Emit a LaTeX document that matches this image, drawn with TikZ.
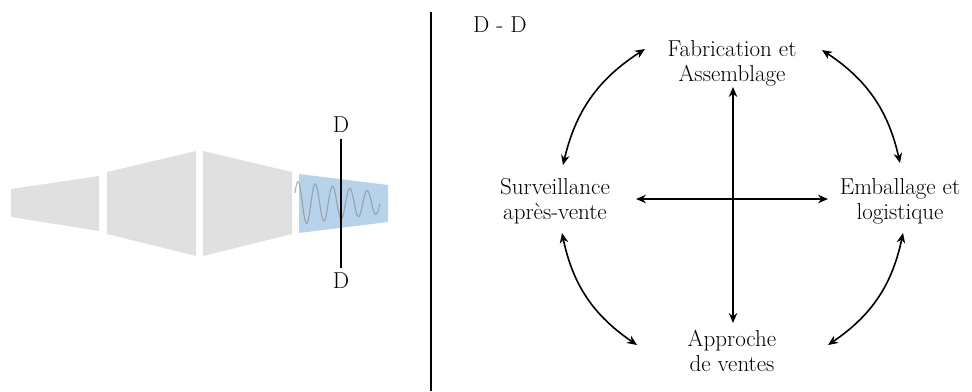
\documentclass[tikz,border=0pt]{standalone}
\usetikzlibrary{arrows.meta}
\definecolor{shapegray}{HTML}{E0E0E0}
\definecolor{shapeblue}{HTML}{B7D3EC}
\tikzset{
  lbl/.style={inner sep=0pt, align=center, font=\fontsize{23}{25}\selectfont},
  arr/.style={line width=1.6pt, {Stealth[length=10pt,width=8.5pt]}-{Stealth[length=10pt,width=8.5pt]}},
}
\begin{document}
\begin{tikzpicture}[x=1pt,y=-1pt]
\useasboundingbox (0,0) rectangle (972,391);
% left drawing
\fill[shapegray] (11,189) -- (99,176) -- (99,231) -- (11,217) -- cycle;
\fill[shapegray] (107,172) -- (196,151) -- (196,256) -- (107,234) -- cycle;
\fill[shapegray] (203,151) -- (292,172) -- (292,234) -- (203,256) -- cycle;
\fill[shapeblue] (299,174) -- (388,185) -- (388,222) -- (299,233) -- cycle;
\draw[gray, line width=1.1pt, opacity=0.6, line join=round]
  plot[domain=295:380, samples=180, smooth]
  (\x, {203 - (21.5 - (\x-298)*0.13)*cos((\x-298)/17.3*360)});
\node[lbl] (dtop) at (341,125) {D};
\node[lbl] (dbot) at (341,281) {D};
\coordinate (dl1) at (341,139);
\coordinate (dl2) at (341,268);
\draw[line width=1.2pt] (dl1) -- (dl2);
% divider
\coordinate (divtop) at (431,12);
\coordinate (divbot) at (431,391);
\draw[line width=1.2pt] (divtop) -- (divbot);
% right diagram
\node[lbl, anchor=west] (dd) at (473,25) {D - D};
\node[lbl] (fab) at (732,63) {Fabrication et\\Assemblage};
\node[lbl] (surv) at (555,201) {Surveillance\\apr\`es-vente};
\node[lbl] (emb) at (900,201) {Emballage et\\logistique};
\node[lbl] (appr) at (732,351) {Approche\\de ventes};
\coordinate (ctop) at (733,87);
\coordinate (cbot) at (733,323);
\coordinate (cleft) at (636,199);
\coordinate (cright) at (828,199);
\draw[arr] (ctop) -- (cbot);
\draw[arr] (cleft) -- (cright);
\coordinate (tl1) at (563,165);
\coordinate (tl2) at (645,49);
\coordinate (tr1) at (822,50);
\coordinate (tr2) at (900,163);
\coordinate (br1) at (903,233);
\coordinate (br2) at (828,345);
\coordinate (bl1) at (637,345);
\coordinate (bl2) at (562,233);
\draw[arr] (tl1) to[bend left=22] (tl2);
\draw[arr] (tr1) to[bend left=22] (tr2);
\draw[arr] (br1) to[bend left=22] (br2);
\draw[arr] (bl1) to[bend left=22] (bl2);
\end{tikzpicture}
\end{document}
